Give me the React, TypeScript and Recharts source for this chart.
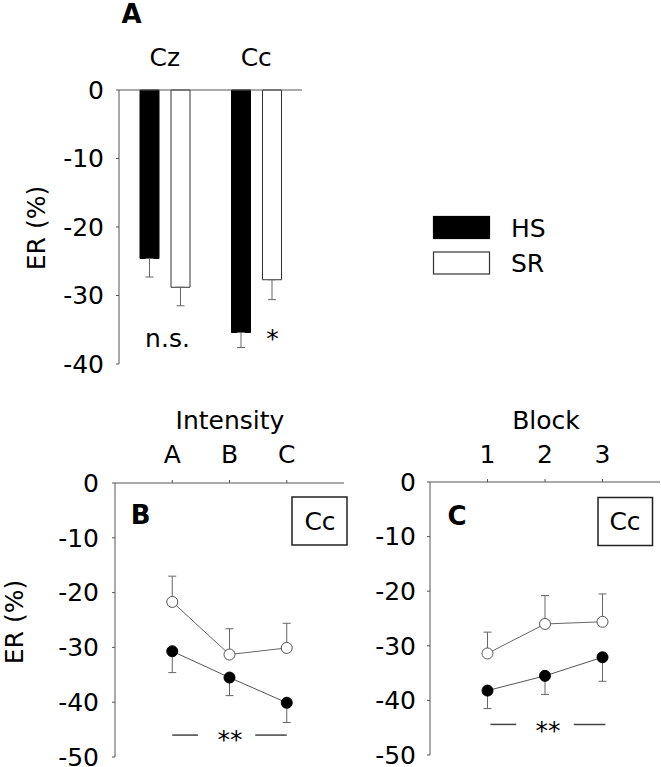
import React from 'react';
import { BarChart, Bar, LineChart, Line, XAxis, YAxis, ErrorBar, ReferenceLine, Legend } from 'recharts';

const FONT = '"DejaVu Sans", sans-serif';
const AXIS = '#555';

// ---- Panel A data ----
const sitesA = ['Cz', 'Cc'];
const hsA = [-24.6, -35.4];
const hsErrA = [2.7, 2.2];
const srA = [-28.8, -27.7];
const srErrA = [2.7, 2.9];
const yTicksA = [0, -10, -20, -30, -40];

// ---- Panel B data ----
const intensityLabels = ['A', 'B', 'C'];
const srB = [-21.7, -31.3, -30.1];
const srErrB = [4.7, 4.7, 4.5];
const hsB = [-30.7, -35.5, -40.1];
const hsErrB = [3.9, 3.3, 3.6];

// ---- Panel C data ----
const blockLabels = ['1', '2', '3'];
const srC = [-31.4, -26.0, -25.6];
const srErrC = [3.9, 5.2, 5.1];
const hsC = [-38.2, -35.5, -32.1];
const hsErrC = [3.3, 3.4, 4.4];

const yTicksBC = [0, -10, -20, -30, -40, -50];
const xTicksBC = [1, 2, 3];

// significance bars (data coords)
const sigYB = -46.0;
const sigSegsB = [[1.0, 1.45], [2.45, 3.0]];
const sigYC = -44.4;
const sigSegsC = [[1.05, 1.5], [2.5, 3.05]];

const seriesStyle: Record<string, { fill: string; stroke: string }> = {
  HS: { fill: '#000', stroke: '#000' },
  SR: { fill: '#fff', stroke: '#333' },
};

const dataA = sitesA.map((name, i) => ({
  name,
  HS: hsA[i],
  hsErr: [hsErrA[i], 0],
  SR: srA[i],
  srErr: [srErrA[i], 0],
}));

const makeLineData = (labels: string[], sr: number[], srErr: number[], hs: number[], hsErr: number[]) =>
  labels.map((label, i) => ({
    x: i + 1,
    label,
    SR: sr[i],
    srErr: [0, srErr[i]],
    HS: hs[i],
    hsErr: [hsErr[i], 0],
  }));

const dataB = makeLineData(intensityLabels, srB, srErrB, hsB, hsErrB);
const dataC = makeLineData(blockLabels, srC, srErrC, hsC, hsErrC);

const FS = 25;
const tickStyle = { fontSize: FS, fill: '#000', fontFamily: FONT };

const renderLegend = (props: any) => {
  const payload = props.payload || [];
  return (
    <svg width={130} height={60} style={{ overflow: 'visible' }}>
      {payload.map((p: any, i: number) => {
        const st = seriesStyle[p.value] || { fill: '#000', stroke: '#000' };
        const y = i * 35.5;
        return (
          <g key={i}>
            <rect x={0.5} y={y + 0.5} width={56} height={22} fill={st.fill} stroke={st.stroke} strokeWidth={1.2} />
            <text x={78} y={y + 20.5} fontSize={FS} fontFamily={FONT} fill="#000">{p.value}</text>
          </g>
        );
      })}
    </svg>
  );
};

function LinePanel(props: {
  data: any[];
  labels: string[];
  width: number;
  margin: any;
  yAxisWidth: number;
  yTickMargin: number;
  xTickMargin: number;
  sigY: number;
  sigSegs: number[][];
}) {
  const { data, labels, width, margin, yAxisWidth, yTickMargin, xTickMargin, sigY, sigSegs } = props;
  return (
    <LineChart width={width} height={387} data={data} margin={margin}>
      <XAxis
        dataKey="x"
        type="number"
        domain={[0, 4]}
        ticks={xTicksBC}
        interval={0}
        orientation="top"
        height={40}
        tickSize={3}
        tickMargin={xTickMargin}
        stroke={AXIS}
        tick={tickStyle}
        tickFormatter={(v: number) => labels[Math.round(v) - 1] ?? ''}
      />
      <YAxis
        type="number"
        domain={[-50, 0]}
        ticks={yTicksBC}
        interval={0}
        width={yAxisWidth}
        tickSize={3}
        tickMargin={yTickMargin}
        stroke={AXIS}
        tick={tickStyle}
      />
      {sigSegs.map((s, i) => (
        <ReferenceLine
          key={i}
          segment={[{ x: s[0], y: sigY }, { x: s[1], y: sigY }]}
          stroke="#444"
          strokeWidth={1.5}
          ifOverflow="visible"
        />
      ))}
      <Line
        type="linear"
        dataKey="SR"
        stroke="#666"
        strokeWidth={1}
        isAnimationActive={false}
        dot={{ r: 5.5, fill: '#fff', stroke: '#555', strokeWidth: 1 }}
        activeDot={false}
      >
        <ErrorBar dataKey="srErr" width={4} stroke="#666" strokeWidth={1} direction="y" />
      </Line>
      <Line
        type="linear"
        dataKey="HS"
        stroke="#555"
        strokeWidth={1}
        isAnimationActive={false}
        dot={{ r: 5.5, fill: '#000', stroke: '#000', strokeWidth: 1 }}
        activeDot={false}
      >
        <ErrorBar dataKey="hsErr" width={4} stroke="#666" strokeWidth={1} direction="y" />
      </Line>
    </LineChart>
  );
}

export default function App() {
  return (
    <div style={{ position: 'absolute', left: 0, top: 0, width: 661, height: 767, background: '#fff', fontFamily: FONT }}>
      <div style={{ position: 'absolute', left: 0, top: 0 }}>
        <BarChart width={661} height={380} data={dataA} margin={{ top: 50, right: 359, bottom: 16, left: 0 }} barSize={19} barGap={12}>
          <XAxis
            dataKey="name"
            orientation="top"
            height={40}
            tickLine={false}
            tickSize={0}
            tickMargin={24}
            stroke={AXIS}
            tick={tickStyle}
            interval={0}
          />
          <YAxis
            type="number"
            domain={[-40, 0]}
            ticks={yTicksA}
            interval={0}
            width={119}
            tickSize={3}
            tickMargin={12}
            stroke={AXIS}
            tick={tickStyle}
          />
          <Legend
            layout="horizontal"
            verticalAlign="middle"
            align="center"
            content={renderLegend}
            wrapperStyle={{ left: 433, top: 216, width: 130, height: 60 }}
          />
          <Bar dataKey="HS" name="HS" fill="#000" stroke="#000" strokeWidth={1} isAnimationActive={false}>
            <ErrorBar dataKey="hsErr" width={4} stroke="#666" strokeWidth={1} direction="y" />
          </Bar>
          <Bar dataKey="SR" name="SR" fill="#fff" stroke="#333" strokeWidth={1} isAnimationActive={false}>
            <ErrorBar dataKey="srErr" width={4} stroke="#666" strokeWidth={1} direction="y" />
          </Bar>
        </BarChart>
      </div>
      <div style={{ position: 'absolute', left: 0, top: 380 }}>
        <LinePanel
          data={dataB}
          labels={intensityLabels}
          width={350}
          margin={{ top: 63, right: 6, bottom: 10, left: 0 }}
          yAxisWidth={115}
          yTickMargin={13}
          xTickMargin={17}
          sigY={sigYB}
          sigSegs={sigSegsB}
        />
      </div>
      <div style={{ position: 'absolute', left: 350, top: 380 }}>
        <LinePanel
          data={dataC}
          labels={blockLabels}
          width={311}
          margin={{ top: 62, right: 1, bottom: 12, left: 0 }}
          yAxisWidth={80}
          yTickMargin={11}
          xTickMargin={16}
          sigY={sigYC}
          sigSegs={sigSegsC}
        />
      </div>
      <svg
        width={661}
        height={767}
        style={{ position: 'absolute', left: 0, top: 0, pointerEvents: 'none' }}
        fontFamily={FONT}
        fill="#000"
      >
        <text x={131.5} y={23} fontSize={26} fontWeight="bold" textAnchor="middle">A</text>
        <text x={140.7} y={523.5} fontSize={26} fontWeight="bold" textAnchor="middle">B</text>
        <text x={457} y={525} fontSize={26} fontWeight="bold" textAnchor="middle">C</text>
        <text x={230} y={429} fontSize={FS} textAnchor="middle">Intensity</text>
        <text x={546} y={429} fontSize={FS} textAnchor="middle">Block</text>
        <text transform="translate(45,228) rotate(-90)" fontSize={FS} textAnchor="middle">ER (%)</text>
        <text transform="translate(23,622) rotate(-90)" fontSize={FS} textAnchor="middle">ER (%)</text>
        <text x={167.5} y={346.7} fontSize={FS} textAnchor="middle">n.s.</text>
        <text x={272.5} y={347} fontSize={FS} textAnchor="middle">*</text>
        <text x={230} y={747.5} fontSize={FS} textAnchor="middle">**</text>
        <text x={548} y={739} fontSize={FS} textAnchor="middle">**</text>
        <rect x={292} y={497} width={55} height={48} fill="none" stroke="#222" strokeWidth={1.5} />
        <text x={320} y={530} fontSize={FS} textAnchor="middle">Cc</text>
        <rect x={598} y={497.5} width={54.5} height={48} fill="none" stroke="#222" strokeWidth={1.5} />
        <text x={625} y={530} fontSize={FS} textAnchor="middle">Cc</text>
      </svg>
    </div>
  );
}
